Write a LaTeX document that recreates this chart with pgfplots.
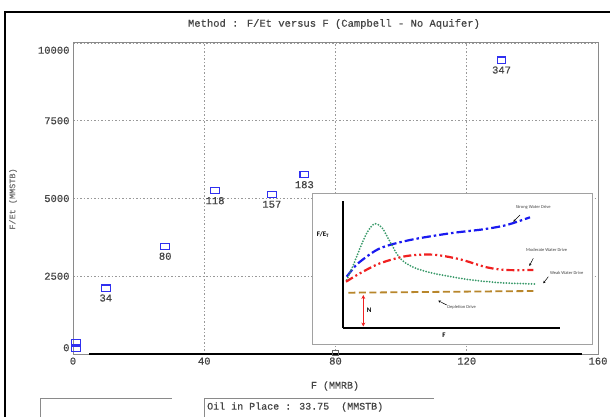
\documentclass[border=0pt]{standalone}
\usepackage{fontspec}
\setmainfont{Liberation Mono}
\newfontfamily\monomed[FakeBold=0.5]{Liberation Mono}
\newfontfamily\insetfont{Carlito}
\usepackage{pgfplots}
\usepackage{pgfplotstable}
\pgfplotsset{compat=1.18}
\usetikzlibrary{arrows.meta}

\definecolor{txtgray}{HTML}{454545}
\definecolor{markblue}{HTML}{3030F0}
\definecolor{framegray}{HTML}{8A8A8A}
\definecolor{driveblue}{HTML}{1A1AF0}
\definecolor{drivegreen}{HTML}{3A9A6A}
\definecolor{drivered}{HTML}{F02020}
\definecolor{drivebrown}{HTML}{B8862B}

% F (MMRB) against F/Et (MMSTB), labelled by time step
\pgfplotstableread{
F     FE    lab
10.0  2122  34
28.1  3463  80
43.3  5251  118
60.6  5135  157
70.5  5765  183
130.6 9453  347
}\campbell

\newcommand{\mono}{\monomed\fontsize{10.5}{12}\selectfont}

\begin{document}
\begin{tikzpicture}
\fill[white] (0,0) rectangle (610pt,-417pt);
\path[use as bounding box] (0,0) rectangle (610pt,-417pt);

% window frame
\draw[line width=2.5pt, black] (5pt,-417pt) -- (5pt,-12pt) -- (610pt,-12pt);

% main plot
\begin{axis}[
  at={(73pt,-354pt)}, anchor=south west,
  scale only axis, width=525pt, height=311pt,
  xmin=0, xmax=160, ymin=0, ymax=10000,
  xtick={0,40,80,120,160},
  ytick={0,2500,5000,7500,10000},
  yticklabels={\raisebox{2.8pt}[0pt][0pt]{0},2500,5000,7500,\raisebox{-10.7pt}[0pt][0pt]{10000}},
  major tick length=0pt,
  grid=major,
  major grid style={gray!80, dash pattern=on 1.5pt off 2pt, line width=0.6pt},
  axis line style={framegray, line width=1pt},
  tick label style={font=\mono, text=txtgray},
  /pgf/number format/assume math mode=true,
  scaled ticks=false,
  clip=false,
]
  % points near the origin
  \addplot[only marks, mark=square, mark size=3.1pt,
    mark options={markblue, line width=1.2pt, xscale=1.4}]
    coordinates {(0.9,354) (0.9,193)};
  % point hidden on the F axis
  \addplot[only marks, mark=square, mark size=2.4pt,
    mark options={black!60, line width=1pt, xscale=1.4}]
    coordinates {(80,40)};
  % zero line
  \addplot[black, line width=1.6pt] coordinates {(5,0) (155,0)};
  % labelled points
  \addplot[only marks, mark=square, mark size=3.1pt,
    mark options={markblue, line width=1.2pt, xscale=1.4},
    nodes near coords, point meta=explicit symbolic,
    every node near coord/.style={anchor=center, yshift=-10pt, font=\mono, text=txtgray}]
    table[x=F, y=FE, meta=lab] {\campbell};
\end{axis}

% titles and labels
\node[font=\mono, text=txtgray] at (334pt,-24pt) {Method : F/Et versus F (Campbell - No Aquifer)};
\node[font=\monomed\fontsize{8.5}{10}\selectfont, text=black!55, rotate=90] at (13pt,-199pt) {F/Et (MMSTB)};
\node[font=\monomed\fontsize{10}{12}\selectfont, text=txtgray] at (335pt,-386pt) {F (MMRB)};

% result panels
\draw[framegray, line width=1pt] (40pt,-417pt) -- (40pt,-398pt) -- (172pt,-398pt);
\draw[framegray, line width=1pt] (204pt,-417pt) -- (204pt,-398pt) -- (434pt,-398pt);
\node[anchor=west, font=\monomed\fontsize{10}{12}\selectfont, text=txtgray, inner sep=0pt] at (207pt,-407pt) {Oil in Place : 33.75\ \ (MMSTB)};

% drive mechanism sketch
\draw[framegray!80, line width=1pt, fill=white] (312pt,-193pt) rectangle (592pt,-344pt);
\begin{axis}[
  at={(343pt,-328pt)}, anchor=south west,
  scale only axis, width=217pt, height=127pt,
  xmin=0, xmax=217, ymin=0, ymax=127,
  axis lines=left,
  axis line style={-, line width=1.8pt, black},
  xtick=\empty, ytick=\empty,
  clip=false,
]
  % strong water drive
  \addplot[driveblue, line width=2.2pt, smooth,
    dash pattern=on 9pt off 3pt on 2.5pt off 3pt]
    coordinates {(3.7,51.3) (10.3,59.7) (17,66.3) (37,79.7) (67,88) (107,94.7) (140.3,98.7) (163.7,103) (187,110.7)};
  % weak water drive
  \addplot[drivegreen, line width=2pt, smooth, line cap=round,
    dash pattern=on 0pt off 2.8pt]
    coordinates {(3.7,48) (10.3,63) (17,79.7) (23.7,94.7) (31,104) (38.7,100.7) (47,86.3) (57,69.7) (70.3,60.7) (90.3,54.7) (123.7,48.7) (157,45.3) (192,44)};
  % moderate water drive
  \addplot[drivered, line width=2.2pt, smooth,
    dash pattern=on 8pt off 3pt on 2pt off 3pt on 2pt off 3pt]
    coordinates {(3,46.3) (17,54.7) (37,64.7) (63.7,72) (90.3,73.3) (117,68.7) (143.7,60.7) (163.7,58) (190.3,58)};
  % depletion drive
  \addplot[drivebrown, line width=1.8pt, dash pattern=on 7pt off 3.5pt]
    coordinates {(5.3,35.3) (190.3,37)};
  % N
  \addplot[drivered, line width=1pt, {Stealth[length=4pt,width=4pt]}-{Stealth[length=4pt,width=4pt]}]
    coordinates {(20.3,1.5) (20.3,33)};
  \node[font=\insetfont\bfseries\fontsize{7}{8}\selectfont] at (axis cs:26.3,17.3) {N};
  \node[font=\insetfont\bfseries\fontsize{7}{8}\selectfont] at (axis cs:-20,93) {F/E\textsubscript{T}};
  \node[font=\insetfont\bfseries\fontsize{7}{8}\selectfont] at (axis cs:101,-7) {F};

  \begin{scope}[font=\insetfont\fontsize{4.5}{5}\selectfont, text=black!75]
    \node at (axis cs:190.3,120.3) {Strong Water Drive};
    \node at (axis cs:203.7,78) {Moderate Water Drive};
    \node at (axis cs:223.7,54.7) {Weak Water Drive};
    \node at (axis cs:118.7,20.3) {Depletion Drive};
  \end{scope}
  \begin{scope}[-{Stealth[length=2.5pt,width=2.5pt]}, line width=0.5pt, black]
    \draw (axis cs:177,113) -- (axis cs:170.3,106.3);
    \draw (axis cs:190.3,69.7) -- (axis cs:186.3,62);
    \draw (axis cs:205.3,51.3) -- (axis cs:200.3,44.7);
    \draw (axis cs:103.7,23) -- (axis cs:95.3,27.3);
  \end{scope}
\end{axis}
\end{tikzpicture}
\end{document}
